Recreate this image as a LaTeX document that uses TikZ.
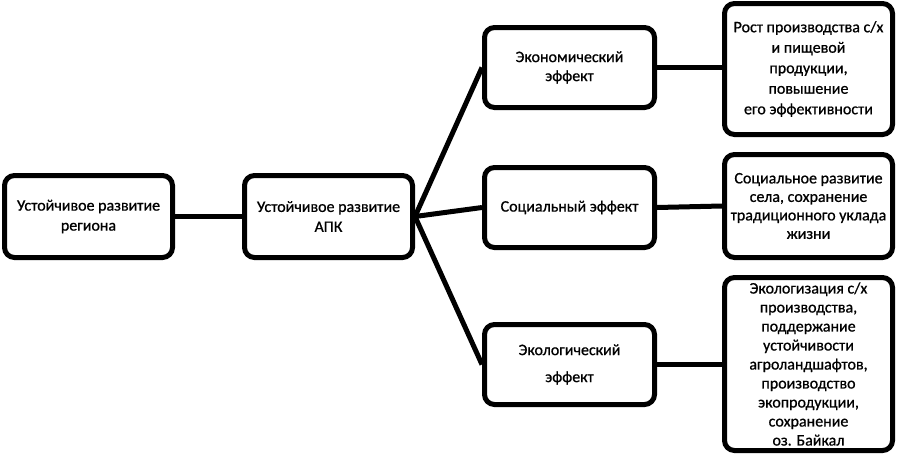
\documentclass[tikz,border=0pt]{standalone}
\usepackage{fontspec}
\setmainfont{Carlito}[FakeBold=0.8]
\begin{document}
\begin{tikzpicture}[x=1pt,y=-1pt,
  box/.style={draw=black,line width=5pt,rounded corners=10pt,fill=white,align=center,
    font=\fontsize{16}{20}\selectfont,inner sep=0pt},
  conn/.style={line width=5pt}]
\useasboundingbox (0,0) rectangle (897,458);
\node[box,minimum width=168pt,minimum height=82pt] (reg) at (88.5,216.5) {Устойчивое развитие\\региона};
\node[box,minimum width=168pt,minimum height=82pt] (apk) at (328.5,216.5) {Устойчивое развитие\\АПК};
\node[box,minimum width=170pt,minimum height=80pt,font=\fontsize{16}{19}\selectfont] (eco) at (569.5,67.5) {Экономический\\эффект};
\node[box,minimum width=170pt,minimum height=80pt] (soc) at (569.5,207.5) {Социальный эффект};
\node[box,minimum width=170pt,minimum height=80pt,font=\fontsize{16}{27}\selectfont] (ecl) at (569.5,364.5) {Экологический\\эффект};
\node[box,minimum width=168pt,minimum height=131pt,font=\fontsize{16}{20.5}\selectfont] (r1) at (808.5,69) {Рост производства с/х\\и пищевой\\продукции,\\повышение\\его эффективности};
\node[box,minimum width=168pt,minimum height=103pt,font=\fontsize{16}{18.5}\selectfont] (r2) at (808.5,206) {Социальное развитие\\села, сохранение\\традиционного уклада\\жизни};
\node[box,minimum width=168pt,minimum height=173pt,font=\fontsize{16}{19}\selectfont] (r3) at (808.5,364) {Экологизация с/х\\производства,\\поддержание\\устойчивости\\агроландшафтов,\\производство\\экопродукции,\\сохранение\\оз. Байкал};
\draw[conn] (reg.east) -- (apk.east -| apk.west);
\draw[conn] (apk.east) -- (eco.west);
\draw[conn] (apk.east) -- (soc.west);
\draw[conn] (apk.east) -- (ecl.west);
\draw[conn] (eco.east) -- (r1.west |- eco.east);
\draw[conn] (soc.east) -- (r2.west);
\draw[conn] (ecl.east) -- (r3.west |- ecl.east);
\end{tikzpicture}
\end{document}
